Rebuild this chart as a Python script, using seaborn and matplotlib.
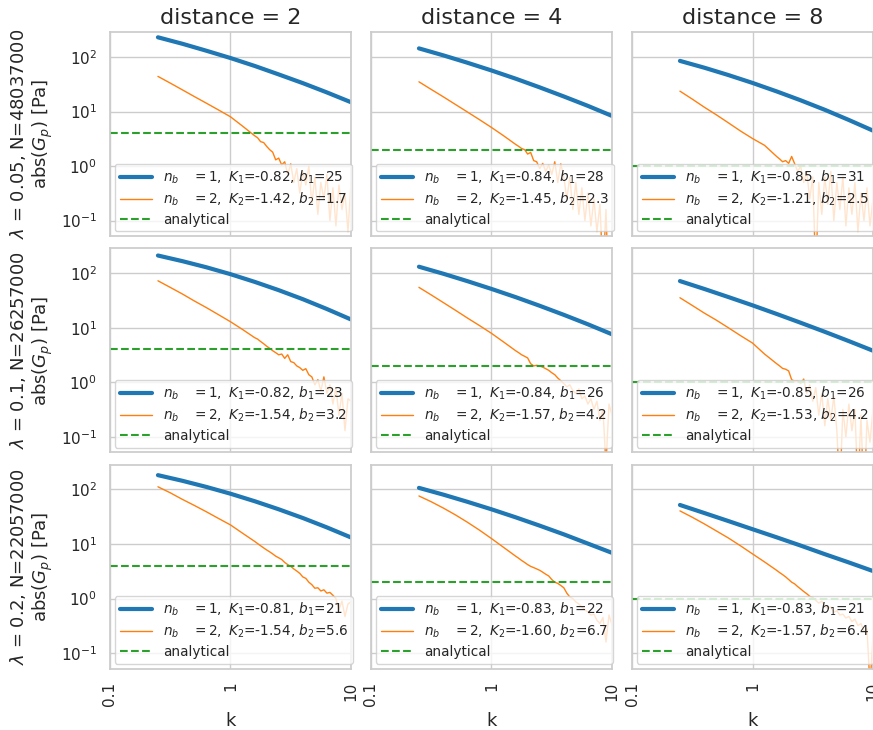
import matplotlib
matplotlib.use("Agg")
import matplotlib.pyplot as plt
import seaborn as sns

# panel layout: rows = lambda, columns = distance
lambdas = ["0.05", "0.1", "0.2"]
n_values = ["48037000", "26257000", "22057000"]
distances = [2, 4, 8]
analytical = [4.0, 2.0, 1.0]

# fit parameters shown in the legends
K1 = [["-0.82", "-0.84", "-0.85"], ["-0.82", "-0.84", "-0.85"], ["-0.81", "-0.83", "-0.83"]]
b1 = [["25", "28", "31"], ["23", "26", "26"], ["21", "22", "21"]]
K2 = [["-1.42", "-1.45", "-1.21"], ["-1.54", "-1.57", "-1.53"], ["-1.54", "-1.60", "-1.57"]]
b2 = [["1.7", "2.3", "2.5"], ["3.2", "4.2", "4.2"], ["5.6", "6.7", "6.4"]]

# n_b = 1 curves (smooth)
k_blue = [0.25, 0.4, 0.63, 1.0, 1.6, 2.5, 4.0, 6.3, 10.0]
blue_l005 = [
    [229, 174, 130, 95.5, 68, 48, 33, 22.4, 14.8],
    [143.5, 106.6, 78.4, 56.5, 39.7, 27.8, 18.8, 12.7, 8.3],
    [84.7, 63.3, 46.6, 33.4, 23.2, 16.1, 10.7, 7.0, 4.46],
]
blue_l01 = [
    [211, 166, 128.5, 96, 69, 49.1, 33.3, 22.1, 14.2],
    [131.5, 97.5, 71.6, 51.5, 36.2, 25.4, 17.2, 11.6, 7.6],
    [71.8, 51.3, 36.6, 25.8, 17.8, 12.4, 8.4, 5.7, 3.8],
]
blue_l02 = [
    [183, 144, 111.4, 83.6, 60.6, 43.5, 29.9, 20.2, 13.2],
    [107, 80.2, 59.5, 43.3, 30.7, 21.8, 15.0, 10.2, 6.9],
    [52, 36.9, 26.4, 18.7, 13.2, 9.4, 6.5, 4.6, 3.2],
]

# n_b = 2 curves (noisy tail)
k_orange = [0.25, 0.316, 0.398, 0.501, 0.631, 0.794, 1.0, 1.259, 1.585,
            1.679, 1.778, 1.884, 1.995, 2.113, 2.239, 2.371, 2.512, 2.661, 2.818,
            2.985, 3.162, 3.35, 3.548, 3.758, 3.981, 4.217, 4.467, 4.732, 5.012,
            5.309, 5.623, 5.957, 6.31, 6.683, 7.079, 7.499, 7.943, 8.414, 8.913,
            9.441, 10.0]
orange_l005 = [
    [44, 33.2, 25, 18.8, 14.2, 10.7, 8.0, 5.4, 3.6,
     3.3, 2.8, 2.7, 2.3, 2.0, 1.8, 1.3, 1.4, 1.05, 1.2, 0.7, 1.1, 0.5, 0.9, 0.32, 0.8,
     0.45, 1.0, 0.2, 0.63, 0.13, 0.5, 0.25, 0.7, 0.1, 0.4, 0.08, 0.45, 0.16, 0.32, 0.063, 0.5],
    [35, 25.4, 18.6, 13.5, 9.8, 7.1, 5.1, 3.6, 2.5,
     2.3, 2.1, 2.0, 1.66, 1.78, 1.26, 1.2, 0.9, 1.12, 0.8, 1.05, 0.7, 1.2, 0.5, 1.1, 0.63,
     0.25, 0.63, 0.16, 0.5, 0.13, 0.4, 0.1, 0.32, 0.08, 0.25, 0.063, 0.2, 0.01, 0.16, 0.003, 0.01],
    [23.6, 16.9, 12, 8.7, 6.2, 4.4, 3.2, 2.4, 1.5,
     1.35, 1.2, 1.26, 1.12, 1.5, 1.1, 0.8, 1.0, 0.5, 0.8, 0.25, 0.63, 0.01, 0.5, 0.13, 0.63,
     0.2, 0.8, 0.1, 0.5, 0.16, 0.63, 0.08, 0.4, 0.13, 0.5, 0.063, 0.32, 0.1, 0.4, 0.08, 0.25],
]
orange_l01 = [
    [72.6, 55, 41.7, 31, 23.4, 17.4, 12.9, 9.3, 6.6,
     6.2, 5.6, 5.1, 4.6, 4.2, 3.8, 3.5, 3.2, 3.3, 2.75, 3.2, 2.4, 2.3, 2.0, 1.86, 1.66,
     1.78, 1.38, 1.26, 0.9, 1.12, 0.7, 1.26, 0.63, 0.9, 0.4, 0.8, 0.25, 0.63, 0.13, 0.5, 0.45],
    [55, 40, 29, 21, 15.1, 11, 7.9, 5.5, 3.8,
     3.5, 3.2, 3.0, 2.8, 2.2, 2.0, 2.05, 2.0, 1.9, 1.78, 1.66, 1.5, 1.38, 1.2, 1.07, 0.95,
     0.83, 0.9, 0.7, 0.63, 0.76, 0.5, 0.56, 0.4, 0.5, 0.32, 0.45, 0.2, 0.32, 0.03, 0.4, 0.25],
    [35.5, 25.7, 18.6, 13.8, 10, 7.2, 5.25, 3.3, 2.2,
     2.0, 1.8, 1.74, 1.62, 1.12, 1.05, 1.07, 0.95, 1.15, 0.63, 0.9, 0.45, 0.8, 0.25, 0.63, 0.16,
     0.5, 0.2, 0.56, 0.13, 0.01, 0.32, 0.1, 0.4, 0.13, 0.32, 0.01, 0.25, 0.006, 0.2, 0.08, 0.32],
]
orange_l02 = [
    [112, 87, 66, 51, 39, 29.5, 22.4, 15.8, 11.2,
     10.2, 9.3, 8.5, 7.8, 7.2, 6.6, 6.0, 5.6, 5.2, 4.6, 4.2, 3.9, 3.5, 3.2, 2.9, 2.5,
     2.35, 2.0, 1.8, 1.55, 1.58, 1.38, 1.45, 1.26, 1.3, 1.15, 1.0, 0.63, 0.9, 0.47, 0.8, 0.87],
    [76, 59.6, 45.7, 34.3, 25.1, 18.0, 12.6, 8.7, 6.0,
     5.5, 5.0, 4.6, 4.2, 3.9, 3.7, 3.5, 3.3, 3.05, 2.8, 2.6, 2.24, 2.0, 1.9, 1.74, 1.58,
     1.26, 1.07, 1.0, 0.87, 0.8, 0.7, 0.63, 0.56, 0.5, 0.52, 0.4, 0.35, 0.45, 0.16, 0.5, 0.33],
    [40.5, 31, 23.4, 17.4, 12.9, 9.3, 6.6, 4.7, 3.3,
     3.0, 2.75, 2.5, 2.24, 2.0, 1.86, 1.66, 1.5, 1.35, 1.23, 1.1, 1.05, 0.93, 0.83, 0.9, 0.72,
     0.66, 0.7, 0.56, 0.6, 0.5, 0.52, 0.44, 0.47, 0.38, 0.42, 0.32, 0.35, 0.25, 0.28, 0.025, 0.2],
]

blue_rows = [blue_l005, blue_l01, blue_l02]
orange_rows = [orange_l005, orange_l01, orange_l02]

sns.set_theme(style="whitegrid")

fig, axes = plt.subplots(3, 3, figsize=(8.73, 7.3), dpi=100, sharex=True, sharey=True)
fig.subplots_adjust(left=0.126, right=1.0, top=0.956, bottom=0.084, wspace=0.083, hspace=0.06)

for i in range(3):
    for j in range(3):
        ax = axes[i, j]
        lab1 = rf"$n_b\quad= 1,\ K_1$={K1[i][j]}, $b_1$={b1[i][j]}"
        lab2 = rf"$n_b\quad= 2,\ K_2$={K2[i][j]}, $b_2$={b2[i][j]}"
        sns.lineplot(x=k_blue, y=blue_rows[i][j], ax=ax, color="tab:blue", linewidth=3, label=lab1)
        sns.lineplot(x=k_orange, y=orange_rows[i][j], ax=ax, color="tab:orange", linewidth=1, label=lab2)
        ax.axhline(analytical[j], color="tab:green", ls="--", lw=1.5, label="analytical")
        ax.set_xscale("log")
        ax.set_yscale("log")
        ax.legend(loc="lower left", fontsize=9.8, handlelength=2.4,
                  labelspacing=0.35, borderaxespad=0.35, borderpad=0.35)
        ax.tick_params(labelsize=11)
        if i == 0:
            ax.set_title(f"distance = {distances[j]}", fontsize=16)
        if j == 0:
            ax.set_ylabel(rf"$\lambda$ = {lambdas[i]}, N={n_values[i]}" + "\n" + r"abs($G_p$) [Pa]", fontsize=13)
        if i == 2:
            ax.set_xlabel("k", fontsize=13)

ax = axes[0, 0]
ax.set_xlim(0.1, 10)
ax.set_ylim(0.052, 285)
ax.set_xticks([0.1, 1, 10])
ax.set_xticklabels(["0.1", "1", "10"])
for ax in axes[2]:
    ax.tick_params(axis="x", labelrotation=90)

plt.savefig("out.png", dpi=100)
